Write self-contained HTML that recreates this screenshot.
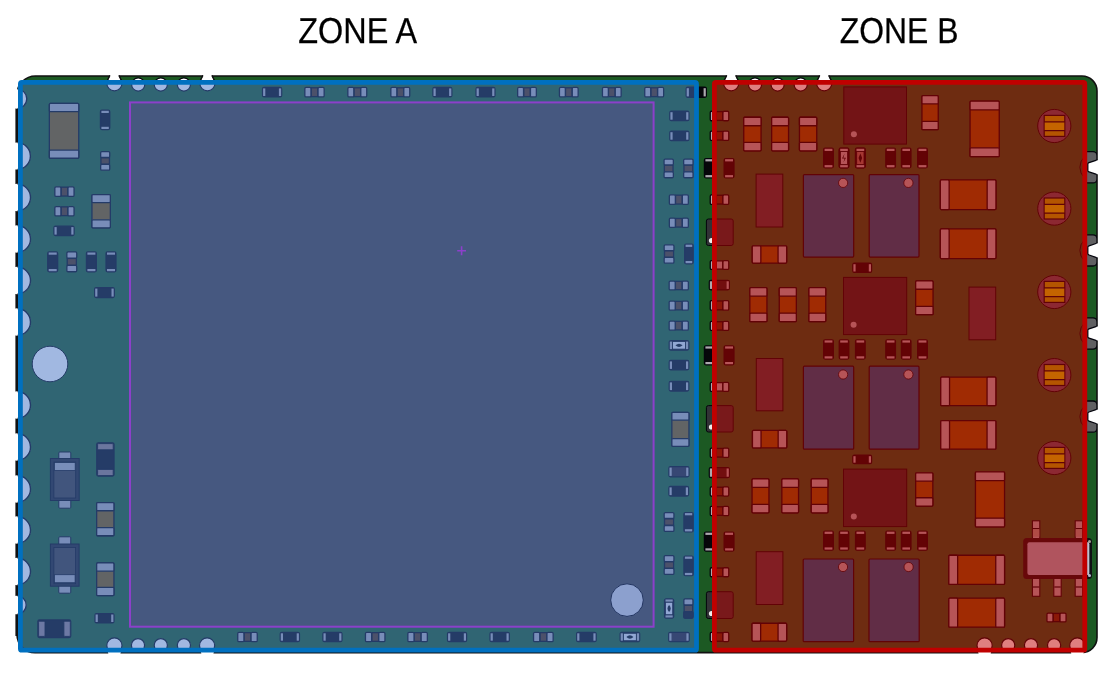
<!DOCTYPE html>
<html><head><meta charset="utf-8"><title>PCB zones</title>
<style>html,body{margin:0;padding:0;background:#fff;}body{width:1117px;height:673px;overflow:hidden;font-family:"Liberation Sans",sans-serif;}svg{display:block;will-change:transform;}</style>
</head><body>
<svg width="1117" height="673" viewBox="0 0 1117 673">
<defs><clipPath id="bd"><path d="M35.5,76 L1082,76 A15,15 0 0 1 1097,91 L1097,637.6 A15,15 0 0 1 1082,652.6 L35,652.6 A18,18 0 0 1 17,634.6 L17,94.5 A18.5,18.5 0 0 1 35.5,76 Z"/></clipPath><clipPath id="lh"><rect x="14" y="0" width="40" height="673"/></clipPath><clipPath id="lh2"><rect x="17.6" y="0" width="40" height="673"/></clipPath><clipPath id="rn"><path d="M1084,0 H1097 V673 H1084 Z"/></clipPath></defs>
<rect width="1117" height="673" fill="#fff"/>
<g clip-path="url(#bd)">
<rect x="0.00" y="0.00" width="1117.00" height="673.00" fill="rgb(28,89,35)"/>
</g>
<path d="M35.5,76 L1082,76 A15,15 0 0 1 1097,91 L1097,637.6 A15,15 0 0 1 1082,652.6 L35,652.6 A18,18 0 0 1 17,634.6 L17,94.5 A18.5,18.5 0 0 1 35.5,76 Z" fill="none" stroke="#111" stroke-width="1.6"/>
<path d="M16.7,93 V636" stroke="#111" stroke-width="2.6"/>
<g clip-path="url(#lh)">
<circle cx="17.00" cy="98.80" r="9.95" fill="#fff"/>
<circle cx="17.00" cy="156.00" r="13.55" fill="#fff"/>
<circle cx="17.00" cy="197.50" r="13.65" fill="#fff"/>
<circle cx="17.00" cy="239.00" r="13.65" fill="#fff"/>
<circle cx="17.00" cy="280.50" r="13.65" fill="#fff"/>
<circle cx="17.00" cy="322.00" r="13.65" fill="#fff"/>
<circle cx="17.00" cy="405.00" r="13.65" fill="#fff"/>
<circle cx="17.00" cy="447.00" r="13.65" fill="#fff"/>
<circle cx="17.00" cy="489.00" r="13.65" fill="#fff"/>
<circle cx="17.00" cy="530.00" r="13.65" fill="#fff"/>
<circle cx="17.00" cy="571.50" r="13.65" fill="#fff"/>
<circle cx="17.00" cy="605.00" r="9.35" fill="#fff"/>
</g>
<g clip-path="url(#lh2)">
<circle cx="17.00" cy="98.80" r="9.80" fill="#fff" stroke="rgb(4,4,12)" stroke-width="1.40"/>
<circle cx="17.00" cy="156.00" r="13.40" fill="#fff" stroke="rgb(4,4,12)" stroke-width="1.40"/>
<circle cx="17.00" cy="197.50" r="13.50" fill="#fff" stroke="rgb(4,4,12)" stroke-width="1.40"/>
<circle cx="17.00" cy="239.00" r="13.50" fill="#fff" stroke="rgb(4,4,12)" stroke-width="1.40"/>
<circle cx="17.00" cy="280.50" r="13.50" fill="#fff" stroke="rgb(4,4,12)" stroke-width="1.40"/>
<circle cx="17.00" cy="322.00" r="13.50" fill="#fff" stroke="rgb(4,4,12)" stroke-width="1.40"/>
<circle cx="17.00" cy="405.00" r="13.50" fill="#fff" stroke="rgb(4,4,12)" stroke-width="1.40"/>
<circle cx="17.00" cy="447.00" r="13.50" fill="#fff" stroke="rgb(4,4,12)" stroke-width="1.40"/>
<circle cx="17.00" cy="489.00" r="13.50" fill="#fff" stroke="rgb(4,4,12)" stroke-width="1.40"/>
<circle cx="17.00" cy="530.00" r="13.50" fill="#fff" stroke="rgb(4,4,12)" stroke-width="1.40"/>
<circle cx="17.00" cy="571.50" r="13.50" fill="#fff" stroke="rgb(4,4,12)" stroke-width="1.40"/>
<circle cx="17.00" cy="605.00" r="9.20" fill="#fff" stroke="rgb(4,4,12)" stroke-width="1.40"/>
</g>
<g clip-path="url(#bd)">
<circle cx="114.40" cy="83.30" r="7.60" fill="#fff" stroke="rgb(4,4,12)" stroke-width="1.20"/>
<circle cx="138.20" cy="84.50" r="6.60" fill="#fff" stroke="rgb(4,4,12)" stroke-width="1.20"/>
<circle cx="160.80" cy="84.50" r="6.60" fill="#fff" stroke="rgb(4,4,12)" stroke-width="1.20"/>
<circle cx="183.90" cy="84.50" r="6.60" fill="#fff" stroke="rgb(4,4,12)" stroke-width="1.20"/>
<circle cx="207.40" cy="83.30" r="7.60" fill="#fff" stroke="rgb(4,4,12)" stroke-width="1.20"/>
<circle cx="731.20" cy="83.30" r="7.60" fill="#fff" stroke="rgb(4,4,12)" stroke-width="1.20"/>
<circle cx="755.00" cy="84.50" r="6.60" fill="#fff" stroke="rgb(4,4,12)" stroke-width="1.20"/>
<circle cx="777.60" cy="84.50" r="6.60" fill="#fff" stroke="rgb(4,4,12)" stroke-width="1.20"/>
<circle cx="800.70" cy="84.50" r="6.60" fill="#fff" stroke="rgb(4,4,12)" stroke-width="1.20"/>
<circle cx="824.20" cy="83.30" r="7.60" fill="#fff" stroke="rgb(4,4,12)" stroke-width="1.20"/>
<circle cx="114.40" cy="645.50" r="7.60" fill="#fff" stroke="rgb(4,4,12)" stroke-width="1.20"/>
<circle cx="138.00" cy="645.20" r="6.60" fill="#fff" stroke="rgb(4,4,12)" stroke-width="1.20"/>
<circle cx="160.80" cy="645.20" r="6.60" fill="#fff" stroke="rgb(4,4,12)" stroke-width="1.20"/>
<circle cx="183.90" cy="645.20" r="6.60" fill="#fff" stroke="rgb(4,4,12)" stroke-width="1.20"/>
<circle cx="207.10" cy="645.50" r="7.60" fill="#fff" stroke="rgb(4,4,12)" stroke-width="1.20"/>
<circle cx="984.60" cy="645.50" r="7.60" fill="#fff" stroke="rgb(4,4,12)" stroke-width="1.20"/>
<circle cx="1008.20" cy="645.20" r="6.60" fill="#fff" stroke="rgb(4,4,12)" stroke-width="1.20"/>
<circle cx="1031.00" cy="645.20" r="6.60" fill="#fff" stroke="rgb(4,4,12)" stroke-width="1.20"/>
<circle cx="1054.10" cy="645.20" r="6.60" fill="#fff" stroke="rgb(4,4,12)" stroke-width="1.20"/>
<circle cx="1077.30" cy="645.50" r="7.60" fill="#fff" stroke="rgb(4,4,12)" stroke-width="1.20"/>
<circle cx="1094.50" cy="167.30" r="14.60" fill="none" stroke="rgb(4,4,12)" stroke-width="1.00"/>
<circle cx="1094.50" cy="250.40" r="14.60" fill="none" stroke="rgb(4,4,12)" stroke-width="1.00"/>
<circle cx="1094.50" cy="333.50" r="14.60" fill="none" stroke="rgb(4,4,12)" stroke-width="1.00"/>
<circle cx="1094.50" cy="416.60" r="14.60" fill="none" stroke="rgb(4,4,12)" stroke-width="1.00"/>
</g>
<g clip-path="url(#rn)">
<rect x="1080.00" y="151.70" width="17.00" height="31.20" rx="4.00" fill="rgb(96,96,98)" stroke="rgb(4,4,12)" stroke-width="1.30"/>
<rect x="1080.00" y="234.80" width="17.00" height="31.20" rx="4.00" fill="rgb(96,96,98)" stroke="rgb(4,4,12)" stroke-width="1.30"/>
<rect x="1080.00" y="317.90" width="17.00" height="31.20" rx="4.00" fill="rgb(96,96,98)" stroke="rgb(4,4,12)" stroke-width="1.30"/>
<rect x="1080.00" y="401.00" width="17.00" height="31.20" rx="4.00" fill="rgb(96,96,98)" stroke="rgb(4,4,12)" stroke-width="1.30"/>
</g>
<path d="M1097.4,159.90 L1089,162.70 Q1087.8,163.10 1087.8,164.10 L1087.8,170.50 Q1087.8,171.50 1089,171.90 L1097.4,174.70" fill="#fff" stroke="rgb(4,4,12)" stroke-width="1.3"/>
<rect x="1096.60" y="160.40" width="8.00" height="13.80" fill="#fff"/>
<path d="M1097.4,243.00 L1089,245.80 Q1087.8,246.20 1087.8,247.20 L1087.8,253.60 Q1087.8,254.60 1089,255.00 L1097.4,257.80" fill="#fff" stroke="rgb(4,4,12)" stroke-width="1.3"/>
<rect x="1096.60" y="243.50" width="8.00" height="13.80" fill="#fff"/>
<path d="M1097.4,326.10 L1089,328.90 Q1087.8,329.30 1087.8,330.30 L1087.8,336.70 Q1087.8,337.70 1089,338.10 L1097.4,340.90" fill="#fff" stroke="rgb(4,4,12)" stroke-width="1.3"/>
<rect x="1096.60" y="326.60" width="8.00" height="13.80" fill="#fff"/>
<path d="M1097.4,409.20 L1089,412.00 Q1087.8,412.40 1087.8,413.40 L1087.8,419.80 Q1087.8,420.80 1089,421.20 L1097.4,424.00" fill="#fff" stroke="rgb(4,4,12)" stroke-width="1.3"/>
<rect x="1096.60" y="409.70" width="8.00" height="13.80" fill="#fff"/>
<path d="M110.9,73 L117.9,73 L121.2,82 L107.6,82 Z" fill="#fff"/>
<path d="M109.9,75.4 L107.4,80.5 M118.9,75.4 L121.4,80.5" stroke="#111" stroke-width="1.4"/>
<path d="M203.9,73 L210.9,73 L214.2,82 L200.6,82 Z" fill="#fff"/>
<path d="M202.9,75.4 L200.4,80.5 M211.9,75.4 L214.4,80.5" stroke="#111" stroke-width="1.4"/>
<path d="M727.7,73 L734.7,73 L738.0,82 L724.4,82 Z" fill="#fff"/>
<path d="M726.7,75.4 L724.2,80.5 M735.7,75.4 L738.2,80.5" stroke="#111" stroke-width="1.4"/>
<path d="M820.7,73 L827.7,73 L831.0,82 L817.4,82 Z" fill="#fff"/>
<path d="M819.7,75.4 L817.2,80.5 M828.7,75.4 L831.2,80.5" stroke="#111" stroke-width="1.4"/>
<path d="M108.9,656 L119.9,656 L121.9,648 L106.9,648 Z" fill="#fff"/>
<path d="M201.9,656 L212.9,656 L214.9,648 L199.9,648 Z" fill="#fff"/>
<path d="M979.1,656 L990.1,656 L992.1,648 L977.1,648 Z" fill="#fff"/>
<path d="M1071.8,656 L1082.8,656 L1084.8,648 L1069.8,648 Z" fill="#fff"/>
<rect x="262.55" y="87.45" width="19.10" height="9.50" rx="1.50" fill="rgb(6,6,10)" stroke="rgb(4,4,12)" stroke-width="1.30"/>
<rect x="263.10" y="88.40" width="2.20" height="7.60" fill="rgb(172,168,174)"/>
<rect x="278.90" y="88.40" width="2.20" height="7.60" fill="rgb(172,168,174)"/>
<rect x="311.12" y="87.77" width="6.77" height="8.86" fill="rgb(84,48,16)" stroke="rgb(4,4,12)" stroke-width="1.30"/>
<rect x="304.85" y="87.45" width="6.12" height="9.50" rx="1.20" fill="rgb(172,168,174)" stroke="rgb(4,4,12)" stroke-width="1.30"/>
<rect x="318.03" y="87.45" width="6.12" height="9.50" rx="1.20" fill="rgb(172,168,174)" stroke="rgb(4,4,12)" stroke-width="1.30"/>
<rect x="353.97" y="87.77" width="6.66" height="8.86" fill="rgb(84,48,16)" stroke="rgb(4,4,12)" stroke-width="1.30"/>
<rect x="347.85" y="87.45" width="5.97" height="9.50" rx="1.20" fill="rgb(172,168,174)" stroke="rgb(4,4,12)" stroke-width="1.30"/>
<rect x="360.78" y="87.45" width="5.97" height="9.50" rx="1.20" fill="rgb(172,168,174)" stroke="rgb(4,4,12)" stroke-width="1.30"/>
<rect x="396.97" y="87.77" width="6.66" height="8.86" fill="rgb(84,48,16)" stroke="rgb(4,4,12)" stroke-width="1.30"/>
<rect x="390.85" y="87.45" width="5.97" height="9.50" rx="1.20" fill="rgb(172,168,174)" stroke="rgb(4,4,12)" stroke-width="1.30"/>
<rect x="403.78" y="87.45" width="5.97" height="9.50" rx="1.20" fill="rgb(172,168,174)" stroke="rgb(4,4,12)" stroke-width="1.30"/>
<rect x="432.95" y="87.45" width="18.90" height="9.50" rx="1.50" fill="rgb(6,6,10)" stroke="rgb(4,4,12)" stroke-width="1.30"/>
<rect x="433.50" y="88.40" width="2.20" height="7.60" fill="rgb(172,168,174)"/>
<rect x="449.10" y="88.40" width="2.20" height="7.60" fill="rgb(172,168,174)"/>
<rect x="476.05" y="87.45" width="18.90" height="9.50" rx="1.50" fill="rgb(6,6,10)" stroke="rgb(4,4,12)" stroke-width="1.30"/>
<rect x="476.60" y="88.40" width="2.20" height="7.60" fill="rgb(172,168,174)"/>
<rect x="492.20" y="88.40" width="2.20" height="7.60" fill="rgb(172,168,174)"/>
<rect x="523.70" y="87.77" width="6.60" height="8.86" fill="rgb(84,48,16)" stroke="rgb(4,4,12)" stroke-width="1.30"/>
<rect x="517.65" y="87.45" width="5.90" height="9.50" rx="1.20" fill="rgb(172,168,174)" stroke="rgb(4,4,12)" stroke-width="1.30"/>
<rect x="530.45" y="87.45" width="5.90" height="9.50" rx="1.20" fill="rgb(172,168,174)" stroke="rgb(4,4,12)" stroke-width="1.30"/>
<rect x="565.50" y="87.77" width="6.60" height="8.86" fill="rgb(84,48,16)" stroke="rgb(4,4,12)" stroke-width="1.30"/>
<rect x="559.45" y="87.45" width="5.90" height="9.50" rx="1.20" fill="rgb(172,168,174)" stroke="rgb(4,4,12)" stroke-width="1.30"/>
<rect x="572.25" y="87.45" width="5.90" height="9.50" rx="1.20" fill="rgb(172,168,174)" stroke="rgb(4,4,12)" stroke-width="1.30"/>
<rect x="608.50" y="87.77" width="6.60" height="8.86" fill="rgb(84,48,16)" stroke="rgb(4,4,12)" stroke-width="1.30"/>
<rect x="602.45" y="87.45" width="5.90" height="9.50" rx="1.20" fill="rgb(172,168,174)" stroke="rgb(4,4,12)" stroke-width="1.30"/>
<rect x="615.25" y="87.45" width="5.90" height="9.50" rx="1.20" fill="rgb(172,168,174)" stroke="rgb(4,4,12)" stroke-width="1.30"/>
<rect x="650.87" y="87.77" width="6.66" height="8.86" fill="rgb(84,48,16)" stroke="rgb(4,4,12)" stroke-width="1.30"/>
<rect x="644.75" y="87.45" width="5.97" height="9.50" rx="1.20" fill="rgb(172,168,174)" stroke="rgb(4,4,12)" stroke-width="1.30"/>
<rect x="657.68" y="87.45" width="5.97" height="9.50" rx="1.20" fill="rgb(172,168,174)" stroke="rgb(4,4,12)" stroke-width="1.30"/>
<rect x="686.15" y="87.25" width="20.20" height="10.10" rx="1.50" fill="rgb(6,6,10)" stroke="rgb(4,4,12)" stroke-width="1.30"/>
<rect x="686.70" y="88.20" width="2.20" height="8.20" fill="rgb(172,168,174)"/>
<rect x="703.60" y="88.20" width="2.20" height="8.20" fill="rgb(172,168,174)"/>
<rect x="244.09" y="632.65" width="6.82" height="8.69" fill="rgb(84,48,16)" stroke="rgb(4,4,12)" stroke-width="1.30"/>
<rect x="237.75" y="632.35" width="6.19" height="9.30" rx="1.20" fill="rgb(172,168,174)" stroke="rgb(4,4,12)" stroke-width="1.30"/>
<rect x="251.06" y="632.35" width="6.19" height="9.30" rx="1.20" fill="rgb(172,168,174)" stroke="rgb(4,4,12)" stroke-width="1.30"/>
<rect x="280.25" y="632.35" width="19.20" height="9.30" rx="1.50" fill="rgb(6,6,10)" stroke="rgb(4,4,12)" stroke-width="1.30"/>
<rect x="280.80" y="633.30" width="2.20" height="7.40" fill="rgb(172,168,174)"/>
<rect x="296.70" y="633.30" width="2.20" height="7.40" fill="rgb(172,168,174)"/>
<rect x="322.95" y="632.35" width="19.00" height="9.30" rx="1.50" fill="rgb(6,6,10)" stroke="rgb(4,4,12)" stroke-width="1.30"/>
<rect x="323.50" y="633.30" width="2.20" height="7.40" fill="rgb(172,168,174)"/>
<rect x="339.20" y="633.30" width="2.20" height="7.40" fill="rgb(172,168,174)"/>
<rect x="371.79" y="632.65" width="6.82" height="8.69" fill="rgb(84,48,16)" stroke="rgb(4,4,12)" stroke-width="1.30"/>
<rect x="365.45" y="632.35" width="6.19" height="9.30" rx="1.20" fill="rgb(172,168,174)" stroke="rgb(4,4,12)" stroke-width="1.30"/>
<rect x="378.76" y="632.35" width="6.19" height="9.30" rx="1.20" fill="rgb(172,168,174)" stroke="rgb(4,4,12)" stroke-width="1.30"/>
<rect x="414.19" y="632.65" width="6.82" height="8.69" fill="rgb(84,48,16)" stroke="rgb(4,4,12)" stroke-width="1.30"/>
<rect x="407.85" y="632.35" width="6.19" height="9.30" rx="1.20" fill="rgb(172,168,174)" stroke="rgb(4,4,12)" stroke-width="1.30"/>
<rect x="421.16" y="632.35" width="6.19" height="9.30" rx="1.20" fill="rgb(172,168,174)" stroke="rgb(4,4,12)" stroke-width="1.30"/>
<rect x="447.55" y="632.35" width="19.00" height="9.30" rx="1.50" fill="rgb(6,6,10)" stroke="rgb(4,4,12)" stroke-width="1.30"/>
<rect x="448.10" y="633.30" width="2.20" height="7.40" fill="rgb(172,168,174)"/>
<rect x="463.80" y="633.30" width="2.20" height="7.40" fill="rgb(172,168,174)"/>
<rect x="490.05" y="632.35" width="19.20" height="9.30" rx="1.50" fill="rgb(6,6,10)" stroke="rgb(4,4,12)" stroke-width="1.30"/>
<rect x="490.60" y="633.30" width="2.20" height="7.40" fill="rgb(172,168,174)"/>
<rect x="506.50" y="633.30" width="2.20" height="7.40" fill="rgb(172,168,174)"/>
<rect x="539.92" y="632.65" width="6.85" height="8.69" fill="rgb(84,48,16)" stroke="rgb(4,4,12)" stroke-width="1.30"/>
<rect x="533.55" y="632.35" width="6.22" height="9.30" rx="1.20" fill="rgb(172,168,174)" stroke="rgb(4,4,12)" stroke-width="1.30"/>
<rect x="546.93" y="632.35" width="6.22" height="9.30" rx="1.20" fill="rgb(172,168,174)" stroke="rgb(4,4,12)" stroke-width="1.30"/>
<rect x="576.65" y="632.35" width="19.50" height="9.30" rx="1.50" fill="rgb(6,6,10)" stroke="rgb(4,4,12)" stroke-width="1.30"/>
<rect x="577.20" y="633.30" width="2.20" height="7.40" fill="rgb(172,168,174)"/>
<rect x="593.40" y="633.30" width="2.20" height="7.40" fill="rgb(172,168,174)"/>
<rect x="620.00" y="632.20" width="19.80" height="9.60" rx="1.50" fill="rgb(6,6,10)" stroke="rgb(4,4,12)" stroke-width="1.00"/>
<rect x="620.70" y="633.30" width="2.20" height="7.40" fill="rgb(172,168,174)"/>
<rect x="636.90" y="633.30" width="2.20" height="7.40" fill="rgb(172,168,174)"/>
<rect x="623.50" y="633.30" width="12.80" height="7.40" fill="rgb(222,220,226)" stroke="rgb(4,4,12)" stroke-width="0.80"/>
<path d="M626.36,637.00 Q629.90,633.61 633.44,637.00 Q629.90,640.39 626.36,637.00 Z" fill="rgb(6,6,10)"/>
<rect x="668.75" y="632.35" width="20.40" height="9.30" rx="1.50" fill="rgb(42,28,36)" stroke="rgb(4,4,12)" stroke-width="1.30"/>
<rect x="669.30" y="633.30" width="2.20" height="7.40" fill="rgb(172,168,174)"/>
<rect x="686.40" y="633.30" width="2.20" height="7.40" fill="rgb(172,168,174)"/>
<rect x="49.35" y="103.45" width="29.40" height="54.80" rx="1.00" fill="rgb(128,86,6)" stroke="rgb(4,4,12)" stroke-width="1.30"/>
<rect x="49.35" y="103.45" width="29.40" height="8.20" rx="1.00" fill="rgb(172,168,174)" stroke="rgb(4,4,12)" stroke-width="1.30"/>
<rect x="49.35" y="150.05" width="29.40" height="8.20" rx="1.00" fill="rgb(172,168,174)" stroke="rgb(4,4,12)" stroke-width="1.30"/>
<rect x="100.45" y="110.25" width="9.30" height="19.30" rx="1.50" fill="rgb(6,6,10)" stroke="rgb(4,4,12)" stroke-width="1.30"/>
<rect x="101.40" y="110.80" width="7.40" height="2.20" fill="rgb(172,168,174)"/>
<rect x="101.40" y="126.80" width="7.40" height="2.20" fill="rgb(172,168,174)"/>
<rect x="100.94" y="157.63" width="8.53" height="6.54" fill="rgb(84,48,16)" stroke="rgb(4,4,12)" stroke-width="1.30"/>
<rect x="100.65" y="151.65" width="9.10" height="5.83" rx="1.20" fill="rgb(172,168,174)" stroke="rgb(4,4,12)" stroke-width="1.30"/>
<rect x="100.65" y="164.32" width="9.10" height="5.83" rx="1.20" fill="rgb(172,168,174)" stroke="rgb(4,4,12)" stroke-width="1.30"/>
<rect x="61.08" y="187.17" width="6.74" height="8.86" fill="rgb(84,48,16)" stroke="rgb(4,4,12)" stroke-width="1.30"/>
<rect x="54.85" y="186.85" width="6.08" height="9.50" rx="1.20" fill="rgb(172,168,174)" stroke="rgb(4,4,12)" stroke-width="1.30"/>
<rect x="67.97" y="186.85" width="6.08" height="9.50" rx="1.20" fill="rgb(172,168,174)" stroke="rgb(4,4,12)" stroke-width="1.30"/>
<rect x="61.08" y="206.86" width="6.74" height="8.77" fill="rgb(84,48,16)" stroke="rgb(4,4,12)" stroke-width="1.30"/>
<rect x="54.85" y="206.55" width="6.08" height="9.40" rx="1.20" fill="rgb(172,168,174)" stroke="rgb(4,4,12)" stroke-width="1.30"/>
<rect x="67.97" y="206.55" width="6.08" height="9.40" rx="1.20" fill="rgb(172,168,174)" stroke="rgb(4,4,12)" stroke-width="1.30"/>
<rect x="53.95" y="226.15" width="20.10" height="9.40" rx="1.50" fill="rgb(6,6,10)" stroke="rgb(4,4,12)" stroke-width="1.30"/>
<rect x="54.50" y="227.10" width="2.20" height="7.50" fill="rgb(172,168,174)"/>
<rect x="71.30" y="227.10" width="2.20" height="7.50" fill="rgb(172,168,174)"/>
<rect x="91.95" y="194.55" width="18.40" height="33.30" rx="1.00" fill="rgb(128,86,6)" stroke="rgb(4,4,12)" stroke-width="1.30"/>
<rect x="91.95" y="194.55" width="18.40" height="8.00" rx="1.00" fill="rgb(172,168,174)" stroke="rgb(4,4,12)" stroke-width="1.30"/>
<rect x="91.95" y="219.85" width="18.40" height="8.00" rx="1.00" fill="rgb(172,168,174)" stroke="rgb(4,4,12)" stroke-width="1.30"/>
<rect x="47.75" y="251.95" width="9.90" height="19.80" rx="1.50" fill="rgb(6,6,10)" stroke="rgb(4,4,12)" stroke-width="1.30"/>
<rect x="48.70" y="252.50" width="8.00" height="2.20" fill="rgb(172,168,174)"/>
<rect x="48.70" y="269.00" width="8.00" height="2.20" fill="rgb(172,168,174)"/>
<rect x="67.21" y="258.40" width="9.18" height="6.91" fill="rgb(84,48,16)" stroke="rgb(4,4,12)" stroke-width="1.30"/>
<rect x="66.85" y="251.95" width="9.90" height="6.30" rx="1.20" fill="rgb(172,168,174)" stroke="rgb(4,4,12)" stroke-width="1.30"/>
<rect x="66.85" y="265.45" width="9.90" height="6.30" rx="1.20" fill="rgb(172,168,174)" stroke="rgb(4,4,12)" stroke-width="1.30"/>
<rect x="86.45" y="251.95" width="9.90" height="19.80" rx="1.50" fill="rgb(6,6,10)" stroke="rgb(4,4,12)" stroke-width="1.30"/>
<rect x="87.40" y="252.50" width="8.00" height="2.20" fill="rgb(172,168,174)"/>
<rect x="87.40" y="269.00" width="8.00" height="2.20" fill="rgb(172,168,174)"/>
<rect x="106.05" y="251.95" width="9.90" height="19.80" rx="1.50" fill="rgb(6,6,10)" stroke="rgb(4,4,12)" stroke-width="1.30"/>
<rect x="107.00" y="252.50" width="8.00" height="2.20" fill="rgb(172,168,174)"/>
<rect x="107.00" y="269.00" width="8.00" height="2.20" fill="rgb(172,168,174)"/>
<rect x="94.65" y="287.65" width="19.60" height="9.90" rx="1.50" fill="rgb(6,6,10)" stroke="rgb(4,4,12)" stroke-width="1.30"/>
<rect x="95.20" y="288.60" width="2.20" height="8.00" fill="rgb(172,168,174)"/>
<rect x="111.50" y="288.60" width="2.20" height="8.00" fill="rgb(172,168,174)"/>
<circle cx="50.00" cy="364.00" r="17.80" fill="#fff" stroke="rgb(4,4,12)" stroke-width="1.00"/>
<rect x="58.80" y="452.00" width="12.00" height="8.00" rx="1.00" fill="rgb(172,168,174)" stroke="rgb(4,4,12)" stroke-width="1.00"/>
<rect x="58.80" y="499.00" width="12.00" height="9.20" rx="1.00" fill="rgb(172,168,174)" stroke="rgb(4,4,12)" stroke-width="1.00"/>
<rect x="50.40" y="458.50" width="28.80" height="42.00" fill="rgb(32,30,34)" stroke="rgb(4,4,12)" stroke-width="1.00"/>
<rect x="53.90" y="462.00" width="21.80" height="36.00" fill="rgb(62,56,54)" stroke="rgb(4,4,12)" stroke-width="0.80"/>
<rect x="54.40" y="462.50" width="20.80" height="8.00" fill="rgb(172,168,174)" stroke="rgb(4,4,12)" stroke-width="0.80"/>
<rect x="96.80" y="442.80" width="17.20" height="33.20" rx="1.50" fill="rgb(6,6,10)" stroke="rgb(4,4,12)" stroke-width="1.30"/>
<rect x="97.60" y="443.60" width="15.60" height="6.20" rx="1.00" fill="rgb(146,122,120)" stroke="rgb(4,4,12)" stroke-width="0.90"/>
<rect x="97.60" y="469.40" width="15.60" height="6.20" rx="1.00" fill="rgb(146,122,120)" stroke="rgb(4,4,12)" stroke-width="0.90"/>
<rect x="96.65" y="502.55" width="17.30" height="33.20" rx="1.00" fill="rgb(128,86,6)" stroke="rgb(4,4,12)" stroke-width="1.30"/>
<rect x="96.65" y="502.55" width="17.30" height="8.20" rx="1.00" fill="rgb(172,168,174)" stroke="rgb(4,4,12)" stroke-width="1.30"/>
<rect x="96.65" y="527.55" width="17.30" height="8.20" rx="1.00" fill="rgb(172,168,174)" stroke="rgb(4,4,12)" stroke-width="1.30"/>
<rect x="58.75" y="536.80" width="12.00" height="8.70" rx="1.00" fill="rgb(172,168,174)" stroke="rgb(4,4,12)" stroke-width="1.00"/>
<rect x="58.75" y="584.70" width="12.00" height="8.50" rx="1.00" fill="rgb(172,168,174)" stroke="rgb(4,4,12)" stroke-width="1.00"/>
<rect x="50.40" y="544.00" width="28.70" height="42.20" fill="rgb(32,30,34)" stroke="rgb(4,4,12)" stroke-width="1.00"/>
<rect x="53.90" y="547.50" width="21.70" height="36.20" fill="rgb(62,56,54)" stroke="rgb(4,4,12)" stroke-width="0.80"/>
<rect x="54.40" y="574.70" width="20.70" height="8.00" fill="rgb(172,168,174)" stroke="rgb(4,4,12)" stroke-width="0.80"/>
<rect x="96.65" y="562.95" width="17.30" height="32.60" rx="1.00" fill="rgb(128,86,6)" stroke="rgb(4,4,12)" stroke-width="1.30"/>
<rect x="96.65" y="562.95" width="17.30" height="8.20" rx="1.00" fill="rgb(172,168,174)" stroke="rgb(4,4,12)" stroke-width="1.30"/>
<rect x="96.65" y="587.35" width="17.30" height="8.20" rx="1.00" fill="rgb(172,168,174)" stroke="rgb(4,4,12)" stroke-width="1.30"/>
<rect x="95.05" y="613.55" width="18.90" height="9.40" rx="1.50" fill="rgb(6,6,10)" stroke="rgb(4,4,12)" stroke-width="1.30"/>
<rect x="95.60" y="614.50" width="2.20" height="7.50" fill="rgb(172,168,174)"/>
<rect x="111.20" y="614.50" width="2.20" height="7.50" fill="rgb(172,168,174)"/>
<rect x="37.90" y="620.00" width="32.80" height="17.60" rx="1.50" fill="rgb(6,6,10)" stroke="rgb(4,4,12)" stroke-width="1.30"/>
<rect x="38.60" y="621.20" width="6.40" height="15.20" rx="1.00" fill="rgb(150,128,132)" stroke="rgb(4,4,12)" stroke-width="0.90"/>
<rect x="63.90" y="621.20" width="6.40" height="15.20" rx="1.00" fill="rgb(150,128,132)" stroke="rgb(4,4,12)" stroke-width="0.90"/>
<rect x="669.85" y="111.25" width="19.10" height="9.40" rx="1.50" fill="rgb(6,6,10)" stroke="rgb(4,4,12)" stroke-width="1.30"/>
<rect x="670.40" y="112.20" width="2.20" height="7.50" fill="rgb(172,168,174)"/>
<rect x="686.20" y="112.20" width="2.20" height="7.50" fill="rgb(172,168,174)"/>
<rect x="669.85" y="131.25" width="19.10" height="9.40" rx="1.50" fill="rgb(6,6,10)" stroke="rgb(4,4,12)" stroke-width="1.30"/>
<rect x="670.40" y="132.20" width="2.20" height="7.50" fill="rgb(172,168,174)"/>
<rect x="686.20" y="132.20" width="2.20" height="7.50" fill="rgb(172,168,174)"/>
<rect x="664.35" y="165.10" width="8.69" height="6.60" fill="rgb(84,48,16)" stroke="rgb(4,4,12)" stroke-width="1.30"/>
<rect x="664.05" y="159.05" width="9.30" height="5.90" rx="1.20" fill="rgb(172,168,174)" stroke="rgb(4,4,12)" stroke-width="1.30"/>
<rect x="664.05" y="171.85" width="9.30" height="5.90" rx="1.20" fill="rgb(172,168,174)" stroke="rgb(4,4,12)" stroke-width="1.30"/>
<rect x="683.96" y="165.10" width="8.77" height="6.60" fill="rgb(84,48,16)" stroke="rgb(4,4,12)" stroke-width="1.30"/>
<rect x="683.65" y="159.05" width="9.40" height="5.90" rx="1.20" fill="rgb(172,168,174)" stroke="rgb(4,4,12)" stroke-width="1.30"/>
<rect x="683.65" y="171.85" width="9.40" height="5.90" rx="1.20" fill="rgb(172,168,174)" stroke="rgb(4,4,12)" stroke-width="1.30"/>
<rect x="675.51" y="195.17" width="6.68" height="8.86" fill="rgb(84,48,16)" stroke="rgb(4,4,12)" stroke-width="1.30"/>
<rect x="669.35" y="194.85" width="6.01" height="9.50" rx="1.20" fill="rgb(172,168,174)" stroke="rgb(4,4,12)" stroke-width="1.30"/>
<rect x="682.34" y="194.85" width="6.01" height="9.50" rx="1.20" fill="rgb(172,168,174)" stroke="rgb(4,4,12)" stroke-width="1.30"/>
<rect x="675.51" y="218.44" width="6.68" height="8.61" fill="rgb(84,48,16)" stroke="rgb(4,4,12)" stroke-width="1.30"/>
<rect x="669.35" y="218.15" width="6.01" height="9.20" rx="1.20" fill="rgb(172,168,174)" stroke="rgb(4,4,12)" stroke-width="1.30"/>
<rect x="682.34" y="218.15" width="6.01" height="9.20" rx="1.20" fill="rgb(172,168,174)" stroke="rgb(4,4,12)" stroke-width="1.30"/>
<rect x="664.50" y="250.76" width="9.10" height="6.49" fill="rgb(84,48,16)" stroke="rgb(4,4,12)" stroke-width="1.30"/>
<rect x="664.15" y="244.85" width="9.80" height="5.76" rx="1.20" fill="rgb(172,168,174)" stroke="rgb(4,4,12)" stroke-width="1.30"/>
<rect x="664.15" y="257.39" width="9.80" height="5.76" rx="1.20" fill="rgb(172,168,174)" stroke="rgb(4,4,12)" stroke-width="1.30"/>
<rect x="684.65" y="244.15" width="8.50" height="19.60" rx="1.50" fill="rgb(6,6,10)" stroke="rgb(4,4,12)" stroke-width="1.30"/>
<rect x="685.60" y="244.70" width="6.60" height="2.20" fill="rgb(172,168,174)"/>
<rect x="685.60" y="261.00" width="6.60" height="2.20" fill="rgb(172,168,174)"/>
<rect x="675.38" y="281.32" width="6.74" height="8.36" fill="rgb(84,48,16)" stroke="rgb(4,4,12)" stroke-width="1.30"/>
<rect x="669.15" y="281.05" width="6.08" height="8.90" rx="1.20" fill="rgb(172,168,174)" stroke="rgb(4,4,12)" stroke-width="1.30"/>
<rect x="682.27" y="281.05" width="6.08" height="8.90" rx="1.20" fill="rgb(172,168,174)" stroke="rgb(4,4,12)" stroke-width="1.30"/>
<rect x="675.38" y="301.34" width="6.74" height="8.53" fill="rgb(84,48,16)" stroke="rgb(4,4,12)" stroke-width="1.30"/>
<rect x="669.15" y="301.05" width="6.08" height="9.10" rx="1.20" fill="rgb(172,168,174)" stroke="rgb(4,4,12)" stroke-width="1.30"/>
<rect x="682.27" y="301.05" width="6.08" height="9.10" rx="1.20" fill="rgb(172,168,174)" stroke="rgb(4,4,12)" stroke-width="1.30"/>
<rect x="675.38" y="321.34" width="6.74" height="8.53" fill="rgb(84,48,16)" stroke="rgb(4,4,12)" stroke-width="1.30"/>
<rect x="669.15" y="321.05" width="6.08" height="9.10" rx="1.20" fill="rgb(172,168,174)" stroke="rgb(4,4,12)" stroke-width="1.30"/>
<rect x="682.27" y="321.05" width="6.08" height="9.10" rx="1.20" fill="rgb(172,168,174)" stroke="rgb(4,4,12)" stroke-width="1.30"/>
<rect x="669.10" y="340.50" width="19.80" height="9.70" rx="1.50" fill="rgb(6,6,10)" stroke="rgb(4,4,12)" stroke-width="1.00"/>
<rect x="669.80" y="341.60" width="2.20" height="7.50" fill="rgb(172,168,174)"/>
<rect x="686.00" y="341.60" width="2.20" height="7.50" fill="rgb(172,168,174)"/>
<rect x="672.60" y="341.60" width="12.80" height="7.50" fill="rgb(222,220,226)" stroke="rgb(4,4,12)" stroke-width="0.80"/>
<path d="M675.46,345.35 Q679.00,341.93 682.54,345.35 Q679.00,348.77 675.46,345.35 Z" fill="rgb(6,6,10)"/>
<rect x="669.25" y="360.45" width="19.50" height="9.40" rx="1.50" fill="rgb(6,6,10)" stroke="rgb(4,4,12)" stroke-width="1.30"/>
<rect x="669.80" y="361.40" width="2.20" height="7.50" fill="rgb(172,168,174)"/>
<rect x="686.00" y="361.40" width="2.20" height="7.50" fill="rgb(172,168,174)"/>
<rect x="669.25" y="381.45" width="19.50" height="9.60" rx="1.50" fill="rgb(6,6,10)" stroke="rgb(4,4,12)" stroke-width="1.30"/>
<rect x="669.80" y="382.40" width="2.20" height="7.70" fill="rgb(172,168,174)"/>
<rect x="686.00" y="382.40" width="2.20" height="7.70" fill="rgb(172,168,174)"/>
<rect x="671.85" y="412.35" width="17.10" height="34.00" rx="1.00" fill="rgb(128,86,6)" stroke="rgb(4,4,12)" stroke-width="1.30"/>
<rect x="671.85" y="412.35" width="17.10" height="7.80" rx="1.00" fill="rgb(172,168,174)" stroke="rgb(4,4,12)" stroke-width="1.30"/>
<rect x="671.85" y="438.55" width="17.10" height="7.80" rx="1.00" fill="rgb(172,168,174)" stroke="rgb(4,4,12)" stroke-width="1.30"/>
<rect x="668.95" y="466.65" width="20.00" height="10.20" rx="1.50" fill="rgb(42,28,36)" stroke="rgb(4,4,12)" stroke-width="1.30"/>
<rect x="669.50" y="467.60" width="2.20" height="8.30" fill="rgb(172,168,174)"/>
<rect x="686.20" y="467.60" width="2.20" height="8.30" fill="rgb(172,168,174)"/>
<rect x="668.95" y="486.45" width="19.60" height="9.60" rx="1.50" fill="rgb(6,6,10)" stroke="rgb(4,4,12)" stroke-width="1.30"/>
<rect x="669.50" y="487.40" width="2.20" height="7.70" fill="rgb(172,168,174)"/>
<rect x="685.80" y="487.40" width="2.20" height="7.70" fill="rgb(172,168,174)"/>
<rect x="664.50" y="518.67" width="9.10" height="6.66" fill="rgb(84,48,16)" stroke="rgb(4,4,12)" stroke-width="1.30"/>
<rect x="664.15" y="512.55" width="9.80" height="5.97" rx="1.20" fill="rgb(172,168,174)" stroke="rgb(4,4,12)" stroke-width="1.30"/>
<rect x="664.15" y="525.48" width="9.80" height="5.97" rx="1.20" fill="rgb(172,168,174)" stroke="rgb(4,4,12)" stroke-width="1.30"/>
<rect x="683.95" y="512.55" width="9.20" height="19.40" rx="1.50" fill="rgb(6,6,10)" stroke="rgb(4,4,12)" stroke-width="1.30"/>
<rect x="684.90" y="513.10" width="7.30" height="2.20" fill="rgb(172,168,174)"/>
<rect x="684.90" y="529.20" width="7.30" height="2.20" fill="rgb(172,168,174)"/>
<rect x="664.50" y="561.70" width="9.10" height="6.60" fill="rgb(84,48,16)" stroke="rgb(4,4,12)" stroke-width="1.30"/>
<rect x="664.15" y="555.65" width="9.80" height="5.90" rx="1.20" fill="rgb(172,168,174)" stroke="rgb(4,4,12)" stroke-width="1.30"/>
<rect x="664.15" y="568.45" width="9.80" height="5.90" rx="1.20" fill="rgb(172,168,174)" stroke="rgb(4,4,12)" stroke-width="1.30"/>
<rect x="683.95" y="556.05" width="9.20" height="19.60" rx="1.50" fill="rgb(6,6,10)" stroke="rgb(4,4,12)" stroke-width="1.30"/>
<rect x="684.90" y="556.60" width="7.30" height="2.20" fill="rgb(172,168,174)"/>
<rect x="684.90" y="572.90" width="7.30" height="2.20" fill="rgb(172,168,174)"/>
<rect x="664.40" y="598.80" width="9.40" height="19.40" rx="1.50" fill="rgb(6,6,10)" stroke="rgb(4,4,12)" stroke-width="1.00"/>
<rect x="665.50" y="599.50" width="7.20" height="2.20" fill="rgb(172,168,174)"/>
<rect x="665.50" y="615.30" width="7.20" height="2.20" fill="rgb(172,168,174)"/>
<rect x="665.50" y="602.30" width="7.20" height="12.40" fill="rgb(222,220,226)" stroke="rgb(4,4,12)" stroke-width="0.80"/>
<path d="M669.10,605.03 Q665.77,608.50 669.10,611.97 Q672.43,608.50 669.10,605.03 Z" fill="rgb(6,6,10)"/>
<rect x="684.14" y="605.14" width="8.53" height="6.71" fill="rgb(84,48,16)" stroke="rgb(4,4,12)" stroke-width="1.30"/>
<rect x="683.85" y="598.95" width="9.10" height="6.04" rx="1.20" fill="rgb(172,168,174)" stroke="rgb(4,4,12)" stroke-width="1.30"/>
<rect x="683.85" y="612.01" width="9.10" height="6.04" rx="1.20" fill="rgb(172,168,174)" stroke="rgb(4,4,12)" stroke-width="1.30"/>
<rect x="683.85" y="611.60" width="9.10" height="6.45" rx="1.20" fill="rgb(6,6,10)" stroke="rgb(4,4,12)" stroke-width="1.30"/>
<rect x="716.23" y="111.57" width="6.54" height="8.86" fill="rgb(84,48,16)" stroke="rgb(4,4,12)" stroke-width="1.30"/>
<rect x="710.25" y="111.25" width="5.83" height="9.50" rx="1.20" fill="rgb(172,168,174)" stroke="rgb(4,4,12)" stroke-width="1.30"/>
<rect x="722.92" y="111.25" width="5.83" height="9.50" rx="1.20" fill="rgb(172,168,174)" stroke="rgb(4,4,12)" stroke-width="1.30"/>
<rect x="716.23" y="131.44" width="6.54" height="8.61" fill="rgb(84,48,16)" stroke="rgb(4,4,12)" stroke-width="1.30"/>
<rect x="710.25" y="131.15" width="5.83" height="9.20" rx="1.20" fill="rgb(172,168,174)" stroke="rgb(4,4,12)" stroke-width="1.30"/>
<rect x="722.92" y="131.15" width="5.83" height="9.20" rx="1.20" fill="rgb(172,168,174)" stroke="rgb(4,4,12)" stroke-width="1.30"/>
<rect x="716.23" y="195.26" width="6.54" height="8.77" fill="rgb(84,48,16)" stroke="rgb(4,4,12)" stroke-width="1.30"/>
<rect x="710.25" y="194.95" width="5.83" height="9.40" rx="1.20" fill="rgb(172,168,174)" stroke="rgb(4,4,12)" stroke-width="1.30"/>
<rect x="722.92" y="194.95" width="5.83" height="9.40" rx="1.20" fill="rgb(172,168,174)" stroke="rgb(4,4,12)" stroke-width="1.30"/>
<rect x="716.23" y="300.97" width="6.54" height="8.86" fill="rgb(84,48,16)" stroke="rgb(4,4,12)" stroke-width="1.30"/>
<rect x="710.25" y="300.65" width="5.83" height="9.50" rx="1.20" fill="rgb(172,168,174)" stroke="rgb(4,4,12)" stroke-width="1.30"/>
<rect x="722.92" y="300.65" width="5.83" height="9.50" rx="1.20" fill="rgb(172,168,174)" stroke="rgb(4,4,12)" stroke-width="1.30"/>
<rect x="716.23" y="321.72" width="6.54" height="8.36" fill="rgb(84,48,16)" stroke="rgb(4,4,12)" stroke-width="1.30"/>
<rect x="710.25" y="321.45" width="5.83" height="8.90" rx="1.20" fill="rgb(172,168,174)" stroke="rgb(4,4,12)" stroke-width="1.30"/>
<rect x="722.92" y="321.45" width="5.83" height="8.90" rx="1.20" fill="rgb(172,168,174)" stroke="rgb(4,4,12)" stroke-width="1.30"/>
<rect x="716.23" y="448.44" width="6.54" height="8.61" fill="rgb(84,48,16)" stroke="rgb(4,4,12)" stroke-width="1.30"/>
<rect x="710.25" y="448.15" width="5.83" height="9.20" rx="1.20" fill="rgb(172,168,174)" stroke="rgb(4,4,12)" stroke-width="1.30"/>
<rect x="722.92" y="448.15" width="5.83" height="9.20" rx="1.20" fill="rgb(172,168,174)" stroke="rgb(4,4,12)" stroke-width="1.30"/>
<rect x="716.23" y="487.24" width="6.54" height="8.53" fill="rgb(84,48,16)" stroke="rgb(4,4,12)" stroke-width="1.30"/>
<rect x="710.25" y="486.95" width="5.83" height="9.10" rx="1.20" fill="rgb(172,168,174)" stroke="rgb(4,4,12)" stroke-width="1.30"/>
<rect x="722.92" y="486.95" width="5.83" height="9.10" rx="1.20" fill="rgb(172,168,174)" stroke="rgb(4,4,12)" stroke-width="1.30"/>
<rect x="716.23" y="506.75" width="6.54" height="8.61" fill="rgb(84,48,16)" stroke="rgb(4,4,12)" stroke-width="1.30"/>
<rect x="710.25" y="506.45" width="5.83" height="9.20" rx="1.20" fill="rgb(172,168,174)" stroke="rgb(4,4,12)" stroke-width="1.30"/>
<rect x="722.92" y="506.45" width="5.83" height="9.20" rx="1.20" fill="rgb(172,168,174)" stroke="rgb(4,4,12)" stroke-width="1.30"/>
<rect x="716.23" y="568.03" width="6.54" height="8.45" fill="rgb(84,48,16)" stroke="rgb(4,4,12)" stroke-width="1.30"/>
<rect x="710.25" y="567.75" width="5.83" height="9.00" rx="1.20" fill="rgb(172,168,174)" stroke="rgb(4,4,12)" stroke-width="1.30"/>
<rect x="722.92" y="567.75" width="5.83" height="9.00" rx="1.20" fill="rgb(172,168,174)" stroke="rgb(4,4,12)" stroke-width="1.30"/>
<rect x="716.23" y="632.74" width="6.54" height="8.53" fill="rgb(84,48,16)" stroke="rgb(4,4,12)" stroke-width="1.30"/>
<rect x="710.25" y="632.45" width="5.83" height="9.10" rx="1.20" fill="rgb(172,168,174)" stroke="rgb(4,4,12)" stroke-width="1.30"/>
<rect x="722.92" y="632.45" width="5.83" height="9.10" rx="1.20" fill="rgb(172,168,174)" stroke="rgb(4,4,12)" stroke-width="1.30"/>
<rect x="716.23" y="260.90" width="6.54" height="8.20" fill="rgb(172,168,174)" stroke="rgb(4,4,12)" stroke-width="1.30"/>
<rect x="710.25" y="260.65" width="5.83" height="8.70" rx="1.20" fill="rgb(172,168,174)" stroke="rgb(4,4,12)" stroke-width="1.30"/>
<rect x="722.92" y="260.65" width="5.83" height="8.70" rx="1.20" fill="rgb(172,168,174)" stroke="rgb(4,4,12)" stroke-width="1.30"/>
<rect x="716.23" y="382.63" width="6.54" height="8.45" fill="rgb(172,168,174)" stroke="rgb(4,4,12)" stroke-width="1.30"/>
<rect x="710.25" y="382.35" width="5.83" height="9.00" rx="1.20" fill="rgb(172,168,174)" stroke="rgb(4,4,12)" stroke-width="1.30"/>
<rect x="722.92" y="382.35" width="5.83" height="9.00" rx="1.20" fill="rgb(172,168,174)" stroke="rgb(4,4,12)" stroke-width="1.30"/>
<rect x="709.35" y="280.35" width="20.00" height="9.50" rx="1.50" fill="rgb(36,28,30)" stroke="rgb(4,4,12)" stroke-width="1.30"/>
<rect x="709.90" y="281.30" width="2.20" height="7.60" fill="rgb(172,168,174)"/>
<rect x="726.60" y="281.30" width="2.20" height="7.60" fill="rgb(172,168,174)"/>
<rect x="709.35" y="467.55" width="20.00" height="10.10" rx="1.50" fill="rgb(36,28,30)" stroke="rgb(4,4,12)" stroke-width="1.30"/>
<rect x="709.90" y="468.50" width="2.20" height="8.20" fill="rgb(172,168,174)"/>
<rect x="726.60" y="468.50" width="2.20" height="8.20" fill="rgb(172,168,174)"/>
<rect x="704.45" y="158.65" width="9.40" height="19.20" rx="1.50" fill="rgb(6,6,10)" stroke="rgb(4,4,12)" stroke-width="1.30"/>
<rect x="705.40" y="159.20" width="7.50" height="2.20" fill="rgb(172,168,174)"/>
<rect x="705.40" y="175.10" width="7.50" height="2.20" fill="rgb(172,168,174)"/>
<rect x="724.15" y="158.65" width="9.80" height="19.20" rx="1.50" fill="rgb(6,6,10)" stroke="rgb(4,4,12)" stroke-width="1.30"/>
<rect x="725.10" y="159.20" width="7.90" height="2.20" fill="rgb(172,168,174)"/>
<rect x="725.10" y="175.10" width="7.90" height="2.20" fill="rgb(172,168,174)"/>
<rect x="704.45" y="345.85" width="9.40" height="18.90" rx="1.50" fill="rgb(6,6,10)" stroke="rgb(4,4,12)" stroke-width="1.30"/>
<rect x="705.40" y="346.40" width="7.50" height="2.20" fill="rgb(172,168,174)"/>
<rect x="705.40" y="362.00" width="7.50" height="2.20" fill="rgb(172,168,174)"/>
<rect x="724.15" y="345.85" width="9.80" height="18.90" rx="1.50" fill="rgb(6,6,10)" stroke="rgb(4,4,12)" stroke-width="1.30"/>
<rect x="725.10" y="346.40" width="7.90" height="2.20" fill="rgb(172,168,174)"/>
<rect x="725.10" y="362.00" width="7.90" height="2.20" fill="rgb(172,168,174)"/>
<rect x="704.45" y="532.15" width="9.40" height="18.90" rx="1.50" fill="rgb(6,6,10)" stroke="rgb(4,4,12)" stroke-width="1.30"/>
<rect x="705.40" y="532.70" width="7.50" height="2.20" fill="rgb(172,168,174)"/>
<rect x="705.40" y="548.30" width="7.50" height="2.20" fill="rgb(172,168,174)"/>
<rect x="724.15" y="532.15" width="9.80" height="18.90" rx="1.50" fill="rgb(6,6,10)" stroke="rgb(4,4,12)" stroke-width="1.30"/>
<rect x="725.10" y="532.70" width="7.90" height="2.20" fill="rgb(172,168,174)"/>
<rect x="725.10" y="548.30" width="7.90" height="2.20" fill="rgb(172,168,174)"/>
<rect x="706.40" y="219.00" width="26.80" height="26.50" rx="2.00" fill="rgb(50,50,54)" stroke="rgb(4,4,12)" stroke-width="1.00"/>
<circle cx="711.50" cy="240.50" r="2.60" fill="#eee"/>
<rect x="706.40" y="405.60" width="26.80" height="26.40" rx="2.00" fill="rgb(50,50,54)" stroke="rgb(4,4,12)" stroke-width="1.00"/>
<circle cx="711.50" cy="427.00" r="2.60" fill="#eee"/>
<rect x="706.40" y="591.70" width="26.80" height="26.80" rx="2.00" fill="rgb(50,50,54)" stroke="rgb(4,4,12)" stroke-width="1.00"/>
<circle cx="711.50" cy="613.50" r="2.60" fill="#eee"/>
<rect x="743.75" y="117.25" width="17.30" height="33.60" rx="1.00" fill="rgb(128,86,6)" stroke="rgb(4,4,12)" stroke-width="1.30"/>
<rect x="743.75" y="117.25" width="17.30" height="8.50" rx="1.00" fill="rgb(172,168,174)" stroke="rgb(4,4,12)" stroke-width="1.30"/>
<rect x="743.75" y="142.35" width="17.30" height="8.50" rx="1.00" fill="rgb(172,168,174)" stroke="rgb(4,4,12)" stroke-width="1.30"/>
<rect x="771.65" y="117.25" width="16.90" height="33.60" rx="1.00" fill="rgb(128,86,6)" stroke="rgb(4,4,12)" stroke-width="1.30"/>
<rect x="771.65" y="117.25" width="16.90" height="8.50" rx="1.00" fill="rgb(172,168,174)" stroke="rgb(4,4,12)" stroke-width="1.30"/>
<rect x="771.65" y="142.35" width="16.90" height="8.50" rx="1.00" fill="rgb(172,168,174)" stroke="rgb(4,4,12)" stroke-width="1.30"/>
<rect x="799.45" y="117.25" width="17.30" height="33.60" rx="1.00" fill="rgb(128,86,6)" stroke="rgb(4,4,12)" stroke-width="1.30"/>
<rect x="799.45" y="117.25" width="17.30" height="8.50" rx="1.00" fill="rgb(172,168,174)" stroke="rgb(4,4,12)" stroke-width="1.30"/>
<rect x="799.45" y="142.35" width="17.30" height="8.50" rx="1.00" fill="rgb(172,168,174)" stroke="rgb(4,4,12)" stroke-width="1.30"/>
<rect x="843.80" y="86.90" width="62.70" height="57.20" fill="rgb(38,40,44)" stroke="rgb(4,4,12)" stroke-width="1.00"/>
<circle cx="853.90" cy="134.30" r="3.00" fill="rgb(172,168,174)"/>
<rect x="921.95" y="95.65" width="16.30" height="34.00" rx="1.00" fill="rgb(128,86,6)" stroke="rgb(4,4,12)" stroke-width="1.30"/>
<rect x="921.95" y="95.65" width="16.30" height="8.30" rx="1.00" fill="rgb(172,168,174)" stroke="rgb(4,4,12)" stroke-width="1.30"/>
<rect x="921.95" y="121.35" width="16.30" height="8.30" rx="1.00" fill="rgb(172,168,174)" stroke="rgb(4,4,12)" stroke-width="1.30"/>
<rect x="823.65" y="148.25" width="9.70" height="19.60" rx="1.50" fill="rgb(6,6,10)" stroke="rgb(4,4,12)" stroke-width="1.30"/>
<rect x="824.60" y="148.80" width="7.80" height="2.20" fill="rgb(172,168,174)"/>
<rect x="824.60" y="165.10" width="7.80" height="2.20" fill="rgb(172,168,174)"/>
<rect x="839.25" y="148.25" width="9.50" height="19.60" rx="1.50" fill="rgb(6,6,10)" stroke="rgb(4,4,12)" stroke-width="1.30"/>
<rect x="840.20" y="148.80" width="7.60" height="2.20" fill="rgb(172,168,174)"/>
<rect x="840.20" y="165.10" width="7.60" height="2.20" fill="rgb(172,168,174)"/>
<rect x="855.55" y="148.25" width="9.60" height="19.60" rx="1.50" fill="rgb(6,6,10)" stroke="rgb(4,4,12)" stroke-width="1.30"/>
<rect x="856.50" y="148.80" width="7.70" height="2.20" fill="rgb(172,168,174)"/>
<rect x="856.50" y="165.10" width="7.70" height="2.20" fill="rgb(172,168,174)"/>
<rect x="885.85" y="148.25" width="9.60" height="19.60" rx="1.50" fill="rgb(6,6,10)" stroke="rgb(4,4,12)" stroke-width="1.30"/>
<rect x="886.80" y="148.80" width="7.70" height="2.20" fill="rgb(172,168,174)"/>
<rect x="886.80" y="165.10" width="7.70" height="2.20" fill="rgb(172,168,174)"/>
<rect x="901.45" y="148.25" width="9.50" height="19.60" rx="1.50" fill="rgb(6,6,10)" stroke="rgb(4,4,12)" stroke-width="1.30"/>
<rect x="902.40" y="148.80" width="7.60" height="2.20" fill="rgb(172,168,174)"/>
<rect x="902.40" y="165.10" width="7.60" height="2.20" fill="rgb(172,168,174)"/>
<rect x="917.65" y="148.25" width="9.70" height="19.60" rx="1.50" fill="rgb(6,6,10)" stroke="rgb(4,4,12)" stroke-width="1.30"/>
<rect x="918.60" y="148.80" width="7.80" height="2.20" fill="rgb(172,168,174)"/>
<rect x="918.60" y="165.10" width="7.80" height="2.20" fill="rgb(172,168,174)"/>
<rect x="756.10" y="174.10" width="26.70" height="52.90" fill="rgb(68,60,70)" stroke="rgb(4,4,12)" stroke-width="1.00"/>
<rect x="803.40" y="174.60" width="50.30" height="82.50" rx="1.00" fill="rgb(2,90,140)" stroke="rgb(4,4,12)" stroke-width="1.20"/>
<circle cx="843.10" cy="182.90" r="4.60" fill="rgb(172,168,174)" stroke="rgb(4,4,12)" stroke-width="0.80"/>
<rect x="869.20" y="174.60" width="49.80" height="82.50" rx="1.00" fill="rgb(2,90,140)" stroke="rgb(4,4,12)" stroke-width="1.20"/>
<circle cx="908.40" cy="182.90" r="4.60" fill="rgb(172,168,174)" stroke="rgb(4,4,12)" stroke-width="0.80"/>
<rect x="752.25" y="245.85" width="34.40" height="17.20" rx="1.00" fill="rgb(128,86,6)" stroke="rgb(4,4,12)" stroke-width="1.30"/>
<rect x="752.25" y="245.85" width="8.60" height="17.20" rx="1.00" fill="rgb(172,168,174)" stroke="rgb(4,4,12)" stroke-width="1.30"/>
<rect x="778.05" y="245.85" width="8.60" height="17.20" rx="1.00" fill="rgb(172,168,174)" stroke="rgb(4,4,12)" stroke-width="1.30"/>
<rect x="852.85" y="263.25" width="18.70" height="9.20" rx="1.50" fill="rgb(6,6,10)" stroke="rgb(4,4,12)" stroke-width="1.30"/>
<rect x="853.40" y="264.20" width="2.20" height="7.30" fill="rgb(172,168,174)"/>
<rect x="868.80" y="264.20" width="2.20" height="7.30" fill="rgb(172,168,174)"/>
<rect x="839.25" y="148.25" width="9.50" height="19.60" rx="1.50" fill="rgb(6,6,10)" stroke="rgb(4,4,12)" stroke-width="1.30"/>
<rect x="840.20" y="148.80" width="7.60" height="2.20" fill="rgb(172,168,174)"/>
<rect x="840.20" y="165.10" width="7.60" height="2.20" fill="rgb(172,168,174)"/>
<rect x="840.40" y="151.60" width="7.20" height="12.90" fill="rgb(172,168,174)" stroke="rgb(4,4,12)" stroke-width="0.80"/>
<path d="M844.60,153.55 L842.00,158.45 L844.60,158.45 L843.40,162.55 L846.00,157.65 L843.40,157.65 Z" fill="rgb(6,6,10)"/>
<rect x="855.55" y="148.25" width="9.60" height="19.60" rx="1.50" fill="rgb(6,6,10)" stroke="rgb(4,4,12)" stroke-width="1.30"/>
<rect x="856.50" y="148.80" width="7.70" height="2.20" fill="rgb(172,168,174)"/>
<rect x="856.50" y="165.10" width="7.70" height="2.20" fill="rgb(172,168,174)"/>
<rect x="856.70" y="151.60" width="7.30" height="12.90" fill="rgb(138,110,100)" stroke="rgb(4,4,12)" stroke-width="0.80"/>
<path d="M860.35,153.45 L862.15,158.05 L860.35,162.65 L858.55,158.05 Z" fill="rgb(6,6,10)"/>
<rect x="749.85" y="287.65" width="17.10" height="34.00" rx="1.00" fill="rgb(128,86,6)" stroke="rgb(4,4,12)" stroke-width="1.30"/>
<rect x="749.85" y="287.65" width="17.10" height="8.50" rx="1.00" fill="rgb(172,168,174)" stroke="rgb(4,4,12)" stroke-width="1.30"/>
<rect x="749.85" y="313.15" width="17.10" height="8.50" rx="1.00" fill="rgb(172,168,174)" stroke="rgb(4,4,12)" stroke-width="1.30"/>
<rect x="779.25" y="287.65" width="17.10" height="34.00" rx="1.00" fill="rgb(128,86,6)" stroke="rgb(4,4,12)" stroke-width="1.30"/>
<rect x="779.25" y="287.65" width="17.10" height="8.50" rx="1.00" fill="rgb(172,168,174)" stroke="rgb(4,4,12)" stroke-width="1.30"/>
<rect x="779.25" y="313.15" width="17.10" height="8.50" rx="1.00" fill="rgb(172,168,174)" stroke="rgb(4,4,12)" stroke-width="1.30"/>
<rect x="808.95" y="287.65" width="16.80" height="34.00" rx="1.00" fill="rgb(128,86,6)" stroke="rgb(4,4,12)" stroke-width="1.30"/>
<rect x="808.95" y="287.65" width="16.80" height="8.50" rx="1.00" fill="rgb(172,168,174)" stroke="rgb(4,4,12)" stroke-width="1.30"/>
<rect x="808.95" y="313.15" width="16.80" height="8.50" rx="1.00" fill="rgb(172,168,174)" stroke="rgb(4,4,12)" stroke-width="1.30"/>
<rect x="843.50" y="277.40" width="63.20" height="57.20" fill="rgb(38,40,44)" stroke="rgb(4,4,12)" stroke-width="1.00"/>
<circle cx="853.60" cy="324.80" r="3.00" fill="rgb(172,168,174)"/>
<rect x="915.65" y="280.95" width="17.40" height="33.70" rx="1.00" fill="rgb(128,86,6)" stroke="rgb(4,4,12)" stroke-width="1.30"/>
<rect x="915.65" y="280.95" width="17.40" height="8.30" rx="1.00" fill="rgb(172,168,174)" stroke="rgb(4,4,12)" stroke-width="1.30"/>
<rect x="915.65" y="306.35" width="17.40" height="8.30" rx="1.00" fill="rgb(172,168,174)" stroke="rgb(4,4,12)" stroke-width="1.30"/>
<rect x="823.65" y="339.85" width="9.70" height="19.20" rx="1.50" fill="rgb(6,6,10)" stroke="rgb(4,4,12)" stroke-width="1.30"/>
<rect x="824.60" y="340.40" width="7.80" height="2.20" fill="rgb(172,168,174)"/>
<rect x="824.60" y="356.30" width="7.80" height="2.20" fill="rgb(172,168,174)"/>
<rect x="839.25" y="339.85" width="9.50" height="19.20" rx="1.50" fill="rgb(6,6,10)" stroke="rgb(4,4,12)" stroke-width="1.30"/>
<rect x="840.20" y="340.40" width="7.60" height="2.20" fill="rgb(172,168,174)"/>
<rect x="840.20" y="356.30" width="7.60" height="2.20" fill="rgb(172,168,174)"/>
<rect x="855.55" y="339.85" width="9.60" height="19.20" rx="1.50" fill="rgb(6,6,10)" stroke="rgb(4,4,12)" stroke-width="1.30"/>
<rect x="856.50" y="340.40" width="7.70" height="2.20" fill="rgb(172,168,174)"/>
<rect x="856.50" y="356.30" width="7.70" height="2.20" fill="rgb(172,168,174)"/>
<rect x="885.85" y="339.85" width="9.60" height="19.20" rx="1.50" fill="rgb(6,6,10)" stroke="rgb(4,4,12)" stroke-width="1.30"/>
<rect x="886.80" y="340.40" width="7.70" height="2.20" fill="rgb(172,168,174)"/>
<rect x="886.80" y="356.30" width="7.70" height="2.20" fill="rgb(172,168,174)"/>
<rect x="901.45" y="339.85" width="9.50" height="19.20" rx="1.50" fill="rgb(6,6,10)" stroke="rgb(4,4,12)" stroke-width="1.30"/>
<rect x="902.40" y="340.40" width="7.60" height="2.20" fill="rgb(172,168,174)"/>
<rect x="902.40" y="356.30" width="7.60" height="2.20" fill="rgb(172,168,174)"/>
<rect x="917.65" y="339.85" width="9.70" height="19.20" rx="1.50" fill="rgb(6,6,10)" stroke="rgb(4,4,12)" stroke-width="1.30"/>
<rect x="918.60" y="340.40" width="7.80" height="2.20" fill="rgb(172,168,174)"/>
<rect x="918.60" y="356.30" width="7.80" height="2.20" fill="rgb(172,168,174)"/>
<rect x="756.30" y="358.50" width="26.60" height="52.30" fill="rgb(68,60,70)" stroke="rgb(4,4,12)" stroke-width="1.00"/>
<rect x="803.40" y="366.20" width="50.30" height="83.00" rx="1.00" fill="rgb(2,90,140)" stroke="rgb(4,4,12)" stroke-width="1.20"/>
<circle cx="843.10" cy="374.50" r="4.60" fill="rgb(172,168,174)" stroke="rgb(4,4,12)" stroke-width="0.80"/>
<rect x="869.20" y="366.20" width="49.80" height="83.00" rx="1.00" fill="rgb(2,90,140)" stroke="rgb(4,4,12)" stroke-width="1.20"/>
<circle cx="908.40" cy="374.50" r="4.60" fill="rgb(172,168,174)" stroke="rgb(4,4,12)" stroke-width="0.80"/>
<rect x="752.45" y="430.35" width="34.30" height="17.60" rx="1.00" fill="rgb(128,86,6)" stroke="rgb(4,4,12)" stroke-width="1.30"/>
<rect x="752.45" y="430.35" width="8.60" height="17.60" rx="1.00" fill="rgb(172,168,174)" stroke="rgb(4,4,12)" stroke-width="1.30"/>
<rect x="778.15" y="430.35" width="8.60" height="17.60" rx="1.00" fill="rgb(172,168,174)" stroke="rgb(4,4,12)" stroke-width="1.30"/>
<rect x="852.85" y="455.25" width="18.70" height="8.40" rx="1.50" fill="rgb(6,6,10)" stroke="rgb(4,4,12)" stroke-width="1.30"/>
<rect x="853.40" y="456.20" width="2.20" height="6.50" fill="rgb(172,168,174)"/>
<rect x="868.80" y="456.20" width="2.20" height="6.50" fill="rgb(172,168,174)"/>
<rect x="752.05" y="478.95" width="16.90" height="33.90" rx="1.00" fill="rgb(128,86,6)" stroke="rgb(4,4,12)" stroke-width="1.30"/>
<rect x="752.05" y="478.95" width="16.90" height="8.50" rx="1.00" fill="rgb(172,168,174)" stroke="rgb(4,4,12)" stroke-width="1.30"/>
<rect x="752.05" y="504.35" width="16.90" height="8.50" rx="1.00" fill="rgb(172,168,174)" stroke="rgb(4,4,12)" stroke-width="1.30"/>
<rect x="781.85" y="478.95" width="16.70" height="33.90" rx="1.00" fill="rgb(128,86,6)" stroke="rgb(4,4,12)" stroke-width="1.30"/>
<rect x="781.85" y="478.95" width="16.70" height="8.50" rx="1.00" fill="rgb(172,168,174)" stroke="rgb(4,4,12)" stroke-width="1.30"/>
<rect x="781.85" y="504.35" width="16.70" height="8.50" rx="1.00" fill="rgb(172,168,174)" stroke="rgb(4,4,12)" stroke-width="1.30"/>
<rect x="811.25" y="478.95" width="16.70" height="33.90" rx="1.00" fill="rgb(128,86,6)" stroke="rgb(4,4,12)" stroke-width="1.30"/>
<rect x="811.25" y="478.95" width="16.70" height="8.50" rx="1.00" fill="rgb(172,168,174)" stroke="rgb(4,4,12)" stroke-width="1.30"/>
<rect x="811.25" y="504.35" width="16.70" height="8.50" rx="1.00" fill="rgb(172,168,174)" stroke="rgb(4,4,12)" stroke-width="1.30"/>
<rect x="843.50" y="469.10" width="63.20" height="57.50" fill="rgb(38,40,44)" stroke="rgb(4,4,12)" stroke-width="1.00"/>
<circle cx="853.80" cy="516.60" r="3.00" fill="rgb(172,168,174)"/>
<rect x="915.65" y="472.85" width="17.20" height="33.20" rx="1.00" fill="rgb(128,86,6)" stroke="rgb(4,4,12)" stroke-width="1.30"/>
<rect x="915.65" y="472.85" width="17.20" height="8.30" rx="1.00" fill="rgb(172,168,174)" stroke="rgb(4,4,12)" stroke-width="1.30"/>
<rect x="915.65" y="497.75" width="17.20" height="8.30" rx="1.00" fill="rgb(172,168,174)" stroke="rgb(4,4,12)" stroke-width="1.30"/>
<rect x="823.65" y="531.15" width="9.70" height="19.00" rx="1.50" fill="rgb(6,6,10)" stroke="rgb(4,4,12)" stroke-width="1.30"/>
<rect x="824.60" y="531.70" width="7.80" height="2.20" fill="rgb(172,168,174)"/>
<rect x="824.60" y="547.40" width="7.80" height="2.20" fill="rgb(172,168,174)"/>
<rect x="839.25" y="531.15" width="9.50" height="19.00" rx="1.50" fill="rgb(6,6,10)" stroke="rgb(4,4,12)" stroke-width="1.30"/>
<rect x="840.20" y="531.70" width="7.60" height="2.20" fill="rgb(172,168,174)"/>
<rect x="840.20" y="547.40" width="7.60" height="2.20" fill="rgb(172,168,174)"/>
<rect x="855.55" y="531.15" width="9.60" height="19.00" rx="1.50" fill="rgb(6,6,10)" stroke="rgb(4,4,12)" stroke-width="1.30"/>
<rect x="856.50" y="531.70" width="7.70" height="2.20" fill="rgb(172,168,174)"/>
<rect x="856.50" y="547.40" width="7.70" height="2.20" fill="rgb(172,168,174)"/>
<rect x="885.85" y="531.15" width="9.60" height="19.00" rx="1.50" fill="rgb(6,6,10)" stroke="rgb(4,4,12)" stroke-width="1.30"/>
<rect x="886.80" y="531.70" width="7.70" height="2.20" fill="rgb(172,168,174)"/>
<rect x="886.80" y="547.40" width="7.70" height="2.20" fill="rgb(172,168,174)"/>
<rect x="901.45" y="531.15" width="9.50" height="19.00" rx="1.50" fill="rgb(6,6,10)" stroke="rgb(4,4,12)" stroke-width="1.30"/>
<rect x="902.40" y="531.70" width="7.60" height="2.20" fill="rgb(172,168,174)"/>
<rect x="902.40" y="547.40" width="7.60" height="2.20" fill="rgb(172,168,174)"/>
<rect x="917.65" y="531.15" width="9.70" height="19.00" rx="1.50" fill="rgb(6,6,10)" stroke="rgb(4,4,12)" stroke-width="1.30"/>
<rect x="918.60" y="531.70" width="7.80" height="2.20" fill="rgb(172,168,174)"/>
<rect x="918.60" y="547.40" width="7.80" height="2.20" fill="rgb(172,168,174)"/>
<rect x="756.20" y="551.70" width="26.70" height="52.80" fill="rgb(68,60,70)" stroke="rgb(4,4,12)" stroke-width="1.00"/>
<rect x="803.20" y="559.00" width="50.40" height="82.70" rx="1.00" fill="rgb(2,90,140)" stroke="rgb(4,4,12)" stroke-width="1.20"/>
<circle cx="843.00" cy="567.00" r="4.60" fill="rgb(172,168,174)" stroke="rgb(4,4,12)" stroke-width="0.80"/>
<rect x="869.00" y="559.00" width="50.20" height="82.70" rx="1.00" fill="rgb(2,90,140)" stroke="rgb(4,4,12)" stroke-width="1.20"/>
<circle cx="908.60" cy="567.00" r="4.60" fill="rgb(172,168,174)" stroke="rgb(4,4,12)" stroke-width="0.80"/>
<rect x="752.05" y="623.25" width="34.60" height="17.80" rx="1.00" fill="rgb(128,86,6)" stroke="rgb(4,4,12)" stroke-width="1.30"/>
<rect x="752.05" y="623.25" width="8.60" height="17.80" rx="1.00" fill="rgb(172,168,174)" stroke="rgb(4,4,12)" stroke-width="1.30"/>
<rect x="778.05" y="623.25" width="8.60" height="17.80" rx="1.00" fill="rgb(172,168,174)" stroke="rgb(4,4,12)" stroke-width="1.30"/>
<rect x="970.05" y="101.15" width="29.20" height="55.50" rx="1.00" fill="rgb(128,86,6)" stroke="rgb(4,4,12)" stroke-width="1.30"/>
<rect x="970.05" y="101.15" width="29.20" height="8.80" rx="1.00" fill="rgb(172,168,174)" stroke="rgb(4,4,12)" stroke-width="1.30"/>
<rect x="970.05" y="147.85" width="29.20" height="8.80" rx="1.00" fill="rgb(172,168,174)" stroke="rgb(4,4,12)" stroke-width="1.30"/>
<rect x="940.35" y="179.95" width="55.60" height="29.60" rx="1.00" fill="rgb(128,86,6)" stroke="rgb(4,4,12)" stroke-width="1.30"/>
<rect x="940.35" y="179.95" width="8.80" height="29.60" rx="1.00" fill="rgb(172,168,174)" stroke="rgb(4,4,12)" stroke-width="1.30"/>
<rect x="987.15" y="179.95" width="8.80" height="29.60" rx="1.00" fill="rgb(172,168,174)" stroke="rgb(4,4,12)" stroke-width="1.30"/>
<rect x="940.35" y="228.95" width="55.60" height="29.60" rx="1.00" fill="rgb(128,86,6)" stroke="rgb(4,4,12)" stroke-width="1.30"/>
<rect x="940.35" y="228.95" width="8.80" height="29.60" rx="1.00" fill="rgb(172,168,174)" stroke="rgb(4,4,12)" stroke-width="1.30"/>
<rect x="987.15" y="228.95" width="8.80" height="29.60" rx="1.00" fill="rgb(172,168,174)" stroke="rgb(4,4,12)" stroke-width="1.30"/>
<rect x="969.00" y="287.10" width="26.70" height="52.70" fill="rgb(68,60,70)" stroke="rgb(4,4,12)" stroke-width="1.00"/>
<rect x="940.75" y="377.05" width="55.10" height="28.60" rx="1.00" fill="rgb(128,86,6)" stroke="rgb(4,4,12)" stroke-width="1.30"/>
<rect x="940.75" y="377.05" width="8.80" height="28.60" rx="1.00" fill="rgb(172,168,174)" stroke="rgb(4,4,12)" stroke-width="1.30"/>
<rect x="987.05" y="377.05" width="8.80" height="28.60" rx="1.00" fill="rgb(172,168,174)" stroke="rgb(4,4,12)" stroke-width="1.30"/>
<rect x="940.75" y="420.55" width="55.10" height="28.60" rx="1.00" fill="rgb(128,86,6)" stroke="rgb(4,4,12)" stroke-width="1.30"/>
<rect x="940.75" y="420.55" width="8.80" height="28.60" rx="1.00" fill="rgb(172,168,174)" stroke="rgb(4,4,12)" stroke-width="1.30"/>
<rect x="987.05" y="420.55" width="8.80" height="28.60" rx="1.00" fill="rgb(172,168,174)" stroke="rgb(4,4,12)" stroke-width="1.30"/>
<rect x="975.45" y="471.85" width="29.10" height="55.10" rx="1.00" fill="rgb(128,86,6)" stroke="rgb(4,4,12)" stroke-width="1.30"/>
<rect x="975.45" y="471.85" width="29.10" height="8.80" rx="1.00" fill="rgb(172,168,174)" stroke="rgb(4,4,12)" stroke-width="1.30"/>
<rect x="975.45" y="518.15" width="29.10" height="8.80" rx="1.00" fill="rgb(172,168,174)" stroke="rgb(4,4,12)" stroke-width="1.30"/>
<rect x="948.85" y="555.25" width="55.70" height="29.20" rx="1.00" fill="rgb(128,86,6)" stroke="rgb(4,4,12)" stroke-width="1.30"/>
<rect x="948.85" y="555.25" width="8.80" height="29.20" rx="1.00" fill="rgb(172,168,174)" stroke="rgb(4,4,12)" stroke-width="1.30"/>
<rect x="995.75" y="555.25" width="8.80" height="29.20" rx="1.00" fill="rgb(172,168,174)" stroke="rgb(4,4,12)" stroke-width="1.30"/>
<rect x="948.85" y="598.15" width="55.70" height="29.00" rx="1.00" fill="rgb(128,86,6)" stroke="rgb(4,4,12)" stroke-width="1.30"/>
<rect x="948.85" y="598.15" width="8.80" height="29.00" rx="1.00" fill="rgb(172,168,174)" stroke="rgb(4,4,12)" stroke-width="1.30"/>
<rect x="995.75" y="598.15" width="8.80" height="29.00" rx="1.00" fill="rgb(172,168,174)" stroke="rgb(4,4,12)" stroke-width="1.30"/>
<circle cx="1054.30" cy="126.00" r="16.60" fill="rgb(88,80,100)" stroke="rgb(4,4,12)" stroke-width="1.00"/>
<rect x="1044.20" y="115.40" width="20.60" height="21.00" fill="rgb(168,170,0)" stroke="rgb(4,4,12)" stroke-width="1.20"/>
<rect x="1044.80" y="122.10" width="19.40" height="8.10" fill="rgb(200,200,0)"/>
<path d="M1044.2,121.80 H1064.8 M1044.2,130.60 H1064.8" stroke="rgb(4,4,12)" stroke-width="1.3"/>
<circle cx="1054.30" cy="208.60" r="16.60" fill="rgb(88,80,100)" stroke="rgb(4,4,12)" stroke-width="1.00"/>
<rect x="1044.20" y="198.00" width="20.60" height="21.00" fill="rgb(168,170,0)" stroke="rgb(4,4,12)" stroke-width="1.20"/>
<rect x="1044.80" y="204.70" width="19.40" height="8.10" fill="rgb(200,200,0)"/>
<path d="M1044.2,204.40 H1064.8 M1044.2,213.20 H1064.8" stroke="rgb(4,4,12)" stroke-width="1.3"/>
<circle cx="1054.30" cy="292.00" r="16.60" fill="rgb(88,80,100)" stroke="rgb(4,4,12)" stroke-width="1.00"/>
<rect x="1044.20" y="281.40" width="20.60" height="21.00" fill="rgb(168,170,0)" stroke="rgb(4,4,12)" stroke-width="1.20"/>
<rect x="1044.80" y="288.10" width="19.40" height="8.10" fill="rgb(200,200,0)"/>
<path d="M1044.2,287.80 H1064.8 M1044.2,296.60 H1064.8" stroke="rgb(4,4,12)" stroke-width="1.3"/>
<circle cx="1054.30" cy="375.10" r="16.60" fill="rgb(88,80,100)" stroke="rgb(4,4,12)" stroke-width="1.00"/>
<rect x="1044.20" y="364.50" width="20.60" height="21.00" fill="rgb(168,170,0)" stroke="rgb(4,4,12)" stroke-width="1.20"/>
<rect x="1044.80" y="371.20" width="19.40" height="8.10" fill="rgb(200,200,0)"/>
<path d="M1044.2,370.90 H1064.8 M1044.2,379.70 H1064.8" stroke="rgb(4,4,12)" stroke-width="1.3"/>
<circle cx="1054.30" cy="458.00" r="16.60" fill="rgb(88,80,100)" stroke="rgb(4,4,12)" stroke-width="1.00"/>
<rect x="1044.20" y="447.40" width="20.60" height="21.00" fill="rgb(168,170,0)" stroke="rgb(4,4,12)" stroke-width="1.20"/>
<rect x="1044.80" y="454.10" width="19.40" height="8.10" fill="rgb(200,200,0)"/>
<path d="M1044.2,453.80 H1064.8 M1044.2,462.60 H1064.8" stroke="rgb(4,4,12)" stroke-width="1.3"/>
<rect x="1032.40" y="520.80" width="7.40" height="18.00" fill="rgb(172,168,174)" stroke="rgb(4,4,12)" stroke-width="1.10"/>
<rect x="1032.90" y="528.00" width="6.40" height="1.20" fill="rgb(4,4,12)"/>
<rect x="1032.90" y="529.20" width="6.40" height="7.50" fill="rgb(160,150,140)"/>
<rect x="1075.20" y="520.80" width="7.40" height="18.00" fill="rgb(172,168,174)" stroke="rgb(4,4,12)" stroke-width="1.10"/>
<rect x="1075.70" y="528.00" width="6.40" height="1.20" fill="rgb(4,4,12)"/>
<rect x="1075.70" y="529.20" width="6.40" height="7.50" fill="rgb(160,150,140)"/>
<rect x="1032.40" y="577.00" width="7.40" height="19.30" fill="rgb(172,168,174)" stroke="rgb(4,4,12)" stroke-width="1.10"/>
<rect x="1032.90" y="586.40" width="6.40" height="1.20" fill="rgb(4,4,12)"/>
<rect x="1053.80" y="577.00" width="7.40" height="19.30" fill="rgb(172,168,174)" stroke="rgb(4,4,12)" stroke-width="1.10"/>
<rect x="1054.30" y="586.40" width="6.40" height="1.20" fill="rgb(4,4,12)"/>
<rect x="1075.20" y="577.00" width="7.40" height="19.30" fill="rgb(172,168,174)" stroke="rgb(4,4,12)" stroke-width="1.10"/>
<rect x="1075.70" y="586.40" width="6.40" height="1.20" fill="rgb(4,4,12)"/>
<rect x="1023.20" y="538.00" width="68.80" height="41.00" rx="3.50" fill="rgb(16,16,20)"/>
<rect x="1027.40" y="542.20" width="62.00" height="32.80" rx="2.00" fill="rgb(160,168,188)"/>
<rect x="1087.60" y="542.20" width="1.20" height="32.80" fill="rgb(200,200,210)"/>
<circle cx="1089.50" cy="541.50" r="1.50" fill="rgb(170,160,150)"/>
<circle cx="1089.50" cy="575.50" r="1.50" fill="rgb(180,190,210)"/>
<rect x="1053.14" y="613.40" width="6.71" height="8.20" fill="rgb(84,48,16)" stroke="rgb(4,4,12)" stroke-width="1.30"/>
<rect x="1046.95" y="613.15" width="6.04" height="8.70" rx="1.20" fill="rgb(172,168,174)" stroke="rgb(4,4,12)" stroke-width="1.30"/>
<rect x="1060.01" y="613.15" width="6.04" height="8.70" rx="1.20" fill="rgb(172,168,174)" stroke="rgb(4,4,12)" stroke-width="1.30"/>
<rect x="20.4" y="82.4" width="676.1" height="567.8" fill="rgba(68,114,196,0.5)"/>
<rect x="714.4" y="82.4" width="370.4" height="567.8" fill="rgba(192,0,0,0.5)"/>
<rect x="130" y="102.4" width="523.6" height="524.3" fill="rgb(70,88,128)" stroke="rgb(140,64,202)" stroke-width="2"/>
<circle cx="627" cy="600.1" r="16.3" fill="rgb(140,160,206)" stroke="rgb(34,52,96)" stroke-width="1"/>
<path d="M457.2,250.8 H466 M461.6,246.3 V255.3" stroke="rgb(140,64,202)" stroke-width="1.6"/>
<rect x="20.4" y="82.4" width="676.1" height="567.8" fill="none" stroke="#0070C0" stroke-width="4.8" rx="1.5"/>
<rect x="714.4" y="82.4" width="370.4" height="567.8" fill="none" stroke="#C00000" stroke-width="4.8" rx="1.5"/>
<text x="357.7" y="42.85" font-family="Liberation Sans, sans-serif" font-size="36.05" text-anchor="middle" fill="#000" stroke="#000" stroke-width="0.25" text-rendering="geometricPrecision" textLength="118.9" lengthAdjust="spacingAndGlyphs">ZONE A</text>
<text x="899.05" y="42.85" font-family="Liberation Sans, sans-serif" font-size="36.05" text-anchor="middle" fill="#000" stroke="#000" stroke-width="0.25" text-rendering="geometricPrecision" textLength="118.8" lengthAdjust="spacingAndGlyphs">ZONE B</text>
</svg>
</body></html>
